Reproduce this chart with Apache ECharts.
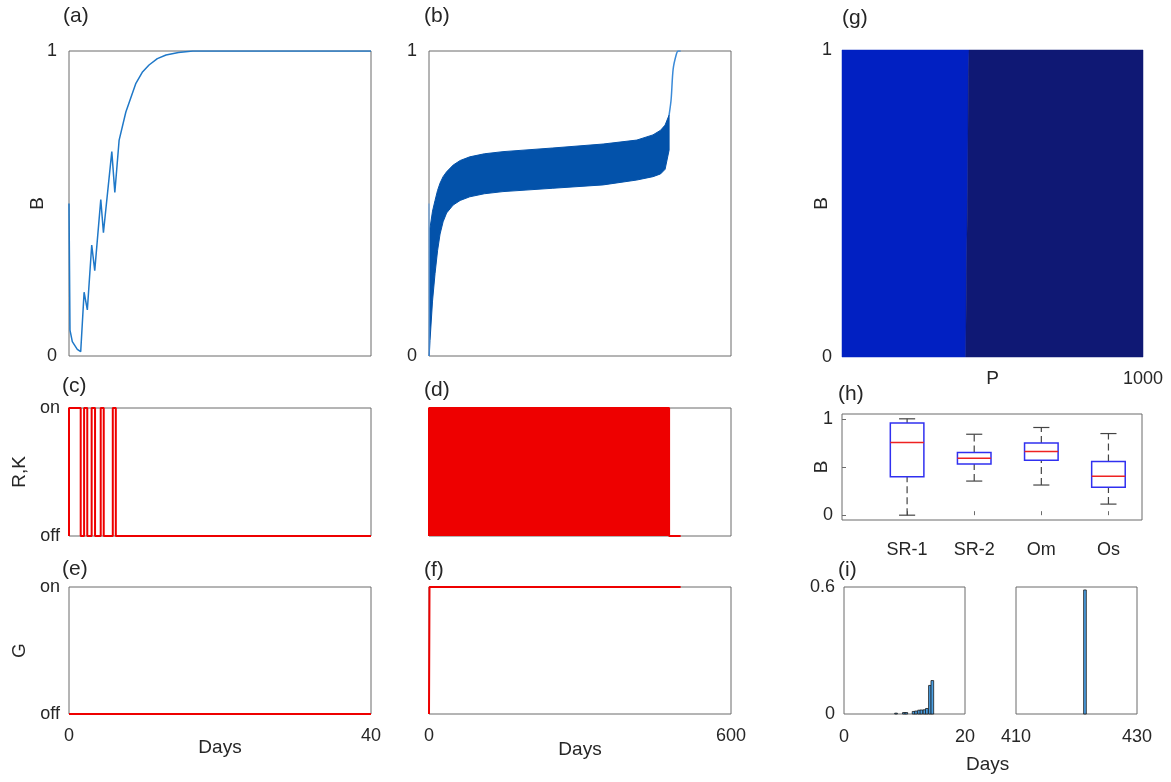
<!DOCTYPE html>
<html>
<head>
<meta charset="utf-8">
<script src="https://cdn.jsdelivr.net/npm/echarts@6/dist/echarts.min.js"></script>
<style>
html, body { margin: 0; padding: 0; background: #fff; }
#chart { width: 1171px; height: 782px; }
</style>
</head>
<body>
<div id="chart"></div>
<script>
// (a) B vs days, 0-40
var aDays = [0, 0.13, 0.44, 1.1, 1.55, 2.0, 2.43, 3.01, 3.41, 4.21, 4.56, 5.67, 6.07, 6.64, 7.53, 8.86, 9.7, 10.6, 11.7, 12.85, 14.5, 16.4, 40];
var aB = [0.5, 0.085, 0.047, 0.022, 0.014, 0.209, 0.151, 0.364, 0.28, 0.513, 0.404, 0.67, 0.536, 0.708, 0.8, 0.894, 0.93, 0.954, 0.975, 0.987, 0.995, 1, 1];

// (b) oscillating band, envelopes, days 0-600
var bStartDays = [0, 0.4];
var bStart = [0.5, 0];
var bandDays = [0.5, 2, 7, 12, 17, 22, 28, 35, 48, 62, 81, 110, 147, 246, 346, 413, 445, 460, 469, 477];
var bandUpper = [0, 0.42, 0.475, 0.51, 0.543, 0.567, 0.588, 0.604, 0.626, 0.641, 0.653, 0.663, 0.67, 0.682, 0.695, 0.708, 0.725, 0.74, 0.757, 0.79];
var bandLower = [0, 0.05, 0.18, 0.27, 0.345, 0.4, 0.44, 0.469, 0.495, 0.51, 0.522, 0.532, 0.539, 0.55, 0.561, 0.577, 0.588, 0.597, 0.612, 0.675];
var bRiseDays = [477, 481, 485, 491, 495, 500];
var bRise = [0.79, 0.84, 0.94, 0.987, 1, 1];

// (c) R,K switching (1 = on, 0 = off), state holds from that day on
var cSwitchDays = [0, 0, 1.55, 2.0, 2.42, 3.0, 3.45, 4.2, 4.6, 5.8, 6.2, 40];
var cStates = [0, 1, 0, 1, 0, 1, 0, 1, 0, 1, 0, 0];

// (d) R,K switching, dense (drawn as filled)
var dSwitchDays = [0, 0, 477, 500];
var dStates = [0, 1, 0, 0];

// (e) G
var eSwitchDays = [0, 40];
var eStates = [0, 0];

// (f) G
var fSwitchDays = [0, 1, 500];
var fStates = [0, 1, 1];

// (g) region boundary in (P, B)
var gBoundaryP = [411, 414, 417.5, 419.7, 422];
var gBoundaryB = [0, 0.316, 0.544, 0.913, 1];

// (h) box plots
var boxNames = ['SR-1', 'SR-2', 'Om', 'Os'];
var boxLow = [0.0, 0.354, 0.313, 0.115];
var boxQ1 = [0.40, 0.53, 0.57, 0.29];
var boxMedian = [0.755, 0.59, 0.66, 0.405];
var boxQ3 = [0.956, 0.65, 0.75, 0.558];
var boxHigh = [1.0, 0.84, 0.91, 0.847];

// (i) histograms
var hist1Days = [8.6, 9.9, 10.3, 11.5, 11.9, 12.4, 12.8, 13.3, 13.7, 14.2, 14.6];
var hist1Vals = [0.004, 0.007, 0.007, 0.012, 0.014, 0.018, 0.019, 0.02, 0.026, 0.135, 0.158];
var hist2Days = [421.4];
var hist2Vals = [0.586];
var histBin = 0.44;

var FONT = 'Liberation Sans, Arial, sans-serif';
var TXT = '#262626';

function pairs(xs, ys) {
  return xs.map(function (x, i) { return [x, ys[i]]; });
}

var grids = [
  { left: 69, top: 51, width: 302, height: 305 },   // a
  { left: 429, top: 51, width: 302, height: 305 },  // b
  { left: 69, top: 408, width: 302, height: 128 },  // c
  { left: 429, top: 408, width: 302, height: 128 }, // d
  { left: 69, top: 587, width: 302, height: 127 },  // e
  { left: 429, top: 587, width: 302, height: 127 }, // f
  { left: 842, top: 50, width: 301, height: 307 },  // g
  { left: 842, top: 414, width: 300, height: 106 }, // h
  { left: 844, top: 587, width: 121, height: 127 }, // i left
  { left: 1016, top: 587, width: 121, height: 127 } // i right
].map(function (g, i) {
  g.show = i !== 6;
  g.borderColor = '#6b6b6b';
  g.borderWidth = 1;
  g.backgroundColor = 'transparent';
  return g;
});

function axis(gridIndex, min, max, extra) {
  var o = {
    type: 'value', gridIndex: gridIndex, min: min, max: max,
    splitLine: { show: false }, axisLine: { show: false }, axisTick: { show: false },
    nameMoveOverlap: false,
    axisLabel: { show: false, color: TXT, fontSize: 18, fontFamily: FONT, showMinLabel: true, showMaxLabel: true, hideOverlap: false,
      formatter: function (v) { return String(v); } },
    nameTextStyle: { color: TXT, fontSize: 19, fontFamily: FONT }
  };
  for (var k in extra) {
    if (k === 'axisLabel' || k === 'axisTick' || k === 'nameTextStyle') {
      for (var j in extra[k]) o[k][j] = extra[k][j];
    } else {
      o[k] = extra[k];
    }
  }
  return o;
}

function onOff(v) { return v === 1 ? 'on' : (v === 0 ? 'off' : ''); }

var xAxes = [
  axis(0, 0, 40, {}),
  axis(1, 0, 600, {}),
  axis(2, 0, 40, {}),
  axis(3, 0, 600, {}),
  axis(4, 0, 40, { interval: 40, axisLabel: { show: true, margin: 13 }, name: 'Days', nameLocation: 'middle', nameGap: 24 }),
  axis(5, 0, 600, { interval: 600, axisLabel: { show: true, margin: 13 }, name: 'Days', nameLocation: 'middle', nameGap: 26 }),
  axis(6, 0, 1000, { axisLabel: { show: true, margin: 13, customValues: [1000] }, name: 'P', nameLocation: 'middle', nameGap: 12 }),
  axis(7, 0.03, 4.5, {
    axisLabel: { show: true, margin: 21, customValues: [1, 2, 3, 4], formatter: function (v) { return boxNames[Math.round(v) - 1] || ''; } },
    axisTick: { show: true, inside: true, length: 4, customValues: [1, 2, 3, 4], lineStyle: { color: '#6b6b6b' } }
  }),
  axis(8, 0, 20, { interval: 20, axisLabel: { show: true, margin: 14 } }),
  axis(9, 410, 430, { axisLabel: { show: true, margin: 14, customValues: [410, 430] } })
];

var yAxes = [
  axis(0, 0, 1, { interval: 1, axisLabel: { show: true, margin: 12 }, name: 'B', nameLocation: 'middle', nameGap: 22 }),
  axis(1, 0, 1, { interval: 1, axisLabel: { show: true, margin: 12 } }),
  axis(2, 0, 1, { interval: 1, axisLabel: { show: true, margin: 9, formatter: onOff }, name: 'R,K', nameLocation: 'middle', nameGap: 40 }),
  axis(3, 0, 1, {}),
  axis(4, 0, 1, { interval: 1, axisLabel: { show: true, margin: 9, formatter: onOff }, name: 'G', nameLocation: 'middle', nameGap: 40 }),
  axis(5, 0, 1, {}),
  axis(6, 0, 1, { interval: 1, axisLabel: { show: true, margin: 10 }, name: 'B', nameLocation: 'middle', nameGap: 11 }),
  axis(7, -0.05, 1.05, {
    axisLabel: { show: true, margin: 9, customValues: [0, 1] },
    axisTick: { show: true, inside: true, length: 4, customValues: [0, 0.5, 1], lineStyle: { color: '#6b6b6b' } },
    name: 'B', nameLocation: 'middle', nameGap: 11
  }),
  axis(8, 0, 0.6, { interval: 0.6, axisLabel: { show: true, margin: 9 } }),
  axis(9, 0, 0.6, {})
];

var RED = '#ee0000';
var BAND = '#0352aa';

function stepSeries(idx, xs, ys, extra) {
  var s = {
    type: 'line', xAxisIndex: idx, yAxisIndex: idx, data: pairs(xs, ys), step: 'end',
    showSymbol: false, clip: false, lineStyle: { color: RED, width: 2 }, z: 3
  };
  for (var k in extra) s[k] = extra[k];
  return s;
}

function histSeries(idx, xs, ys) {
  return {
    type: 'custom', xAxisIndex: idx, yAxisIndex: idx, data: pairs(xs, ys),
    renderItem: function (params, api) {
      var c = api.value(0), h = api.value(1);
      var p0 = api.coord([c - histBin / 2, 0]);
      var p1 = api.coord([c + histBin / 2, h]);
      return {
        type: 'rect',
        shape: { x: p0[0], y: p1[1], width: p1[0] - p0[0], height: p0[1] - p1[1] },
        style: { fill: '#4a9fe3', stroke: '#1a1a1a', lineWidth: 0.8 }
      };
    }
  };
}

var series = [
  // (a)
  { type: 'line', xAxisIndex: 0, yAxisIndex: 0, data: pairs(aDays, aB), showSymbol: false,
    lineStyle: { color: '#1f78c8', width: 1.5 } },
  // (b)
  { type: 'line', xAxisIndex: 1, yAxisIndex: 1, data: pairs(bStartDays, bStart), showSymbol: false,
    lineStyle: { color: '#5a9be0', width: 1 } },
  { type: 'custom', xAxisIndex: 1, yAxisIndex: 1,
    data: bandDays.map(function (d, i) { return [d, bandLower[i], bandUpper[i]]; }),
    encode: { x: 0, y: [1, 2] },
    renderItem: function (params, api) {
      if (params.dataIndex !== 0) return null;
      var top = bandDays.map(function (d, i) { return api.coord([d, bandUpper[i]]); });
      var bottom = bandDays.map(function (d, i) { return api.coord([d, bandLower[i]]); }).reverse();
      return { type: 'polygon', shape: { points: top.concat(bottom) },
        style: { fill: BAND, stroke: BAND, lineWidth: 1 } };
    }
  },
  { type: 'line', xAxisIndex: 1, yAxisIndex: 1, data: pairs(bRiseDays, bRise), showSymbol: false, smooth: 0.3,
    lineStyle: { color: '#3a8ad8', width: 1.5 } },
  // (c)
  stepSeries(2, cSwitchDays, cStates, {}),
  // (d)
  stepSeries(3, dSwitchDays, dStates, { areaStyle: { color: RED, opacity: 1 } }),
  // (e)
  stepSeries(4, eSwitchDays, eStates, {}),
  // (f)
  stepSeries(5, fSwitchDays, fStates, {}),
  // (g) two regions split by boundary
  { type: 'custom', xAxisIndex: 6, yAxisIndex: 6, data: pairs(gBoundaryP, gBoundaryB),
    renderItem: function (params, api) {
      if (params.dataIndex !== 0) return null;
      var edge = gBoundaryP.map(function (p, i) { return api.coord([p, gBoundaryB[i]]); });
      var left = [api.coord([0, 0])].concat(edge).concat([api.coord([0, 1])]);
      var rev = edge.slice().reverse();
      var right = [api.coord([1000, 1])].concat(rev).concat([api.coord([1000, 0])]);
      return { type: 'group', children: [
        { type: 'polygon', shape: { points: left }, style: { fill: '#0120c2', stroke: '#0120c2', lineWidth: 0.5 } },
        { type: 'polygon', shape: { points: right }, style: { fill: '#0f1874', stroke: '#0f1874', lineWidth: 0.5 } }
      ] };
    }
  },
  // (h) box plots
  { type: 'custom', xAxisIndex: 7, yAxisIndex: 7,
    data: boxNames.map(function (n, i) { return [i + 1, boxLow[i], boxQ1[i], boxMedian[i], boxQ3[i], boxHigh[i]]; }),
    encode: { x: 0, y: [1, 2, 3, 4, 5] },
    renderItem: function (params, api) {
      var x = api.value(0);
      var lo = api.coord([x, api.value(1)]);
      var q1 = api.coord([x, api.value(2)]);
      var md = api.coord([x, api.value(3)]);
      var q3 = api.coord([x, api.value(4)]);
      var hi = api.coord([x, api.value(5)]);
      var hb = api.size([0.5, 0])[0] / 2;
      var hc = api.size([0.24, 0])[0] / 2;
      var wStyle = { stroke: '#444', lineWidth: 1.2, lineDash: [7, 4] };
      var cStyle = { stroke: '#444', lineWidth: 1.2 };
      return { type: 'group', children: [
        { type: 'line', shape: { x1: lo[0], y1: lo[1], x2: q1[0], y2: q1[1] }, style: wStyle },
        { type: 'line', shape: { x1: q3[0], y1: q3[1], x2: hi[0], y2: hi[1] }, style: wStyle },
        { type: 'line', shape: { x1: lo[0] - hc, y1: lo[1], x2: lo[0] + hc, y2: lo[1] }, style: cStyle },
        { type: 'line', shape: { x1: hi[0] - hc, y1: hi[1], x2: hi[0] + hc, y2: hi[1] }, style: cStyle },
        { type: 'rect', shape: { x: q1[0] - hb, y: q3[1], width: 2 * hb, height: q1[1] - q3[1] },
          style: { fill: 'none', stroke: '#3030f0', lineWidth: 1.5 } },
        { type: 'line', shape: { x1: md[0] - hb, y1: md[1], x2: md[0] + hb, y2: md[1] },
          style: { stroke: '#ee2222', lineWidth: 1.5 } }
      ] };
    }
  },
  // (i)
  histSeries(8, hist1Days, hist1Vals),
  histSeries(9, hist2Days, hist2Vals)
];

var panelLabels = [
  ['(a)', 63, 18], ['(b)', 424, 18], ['(g)', 842, 20],
  ['(c)', 62, 388], ['(d)', 424, 392], ['(h)', 838, 396],
  ['(e)', 62, 571], ['(f)', 424, 572], ['(i)', 838, 572]
];

var graphics = panelLabels.map(function (p) {
  return { type: 'text', left: p[1], top: p[2] - 12,
    style: { text: p[0], fill: TXT, fontSize: 21, fontFamily: FONT } };
});
graphics.push({ type: 'text', left: 966, top: 755, style: { text: 'Days', fill: TXT, fontSize: 19, fontFamily: FONT } });

var chart = echarts.init(document.getElementById('chart'));
chart.setOption({
  animation: false,
  backgroundColor: '#fff',
  textStyle: { fontFamily: FONT },
  grid: grids,
  xAxis: xAxes,
  yAxis: yAxes,
  series: series,
  graphic: graphics
});
</script>
</body>
</html>
